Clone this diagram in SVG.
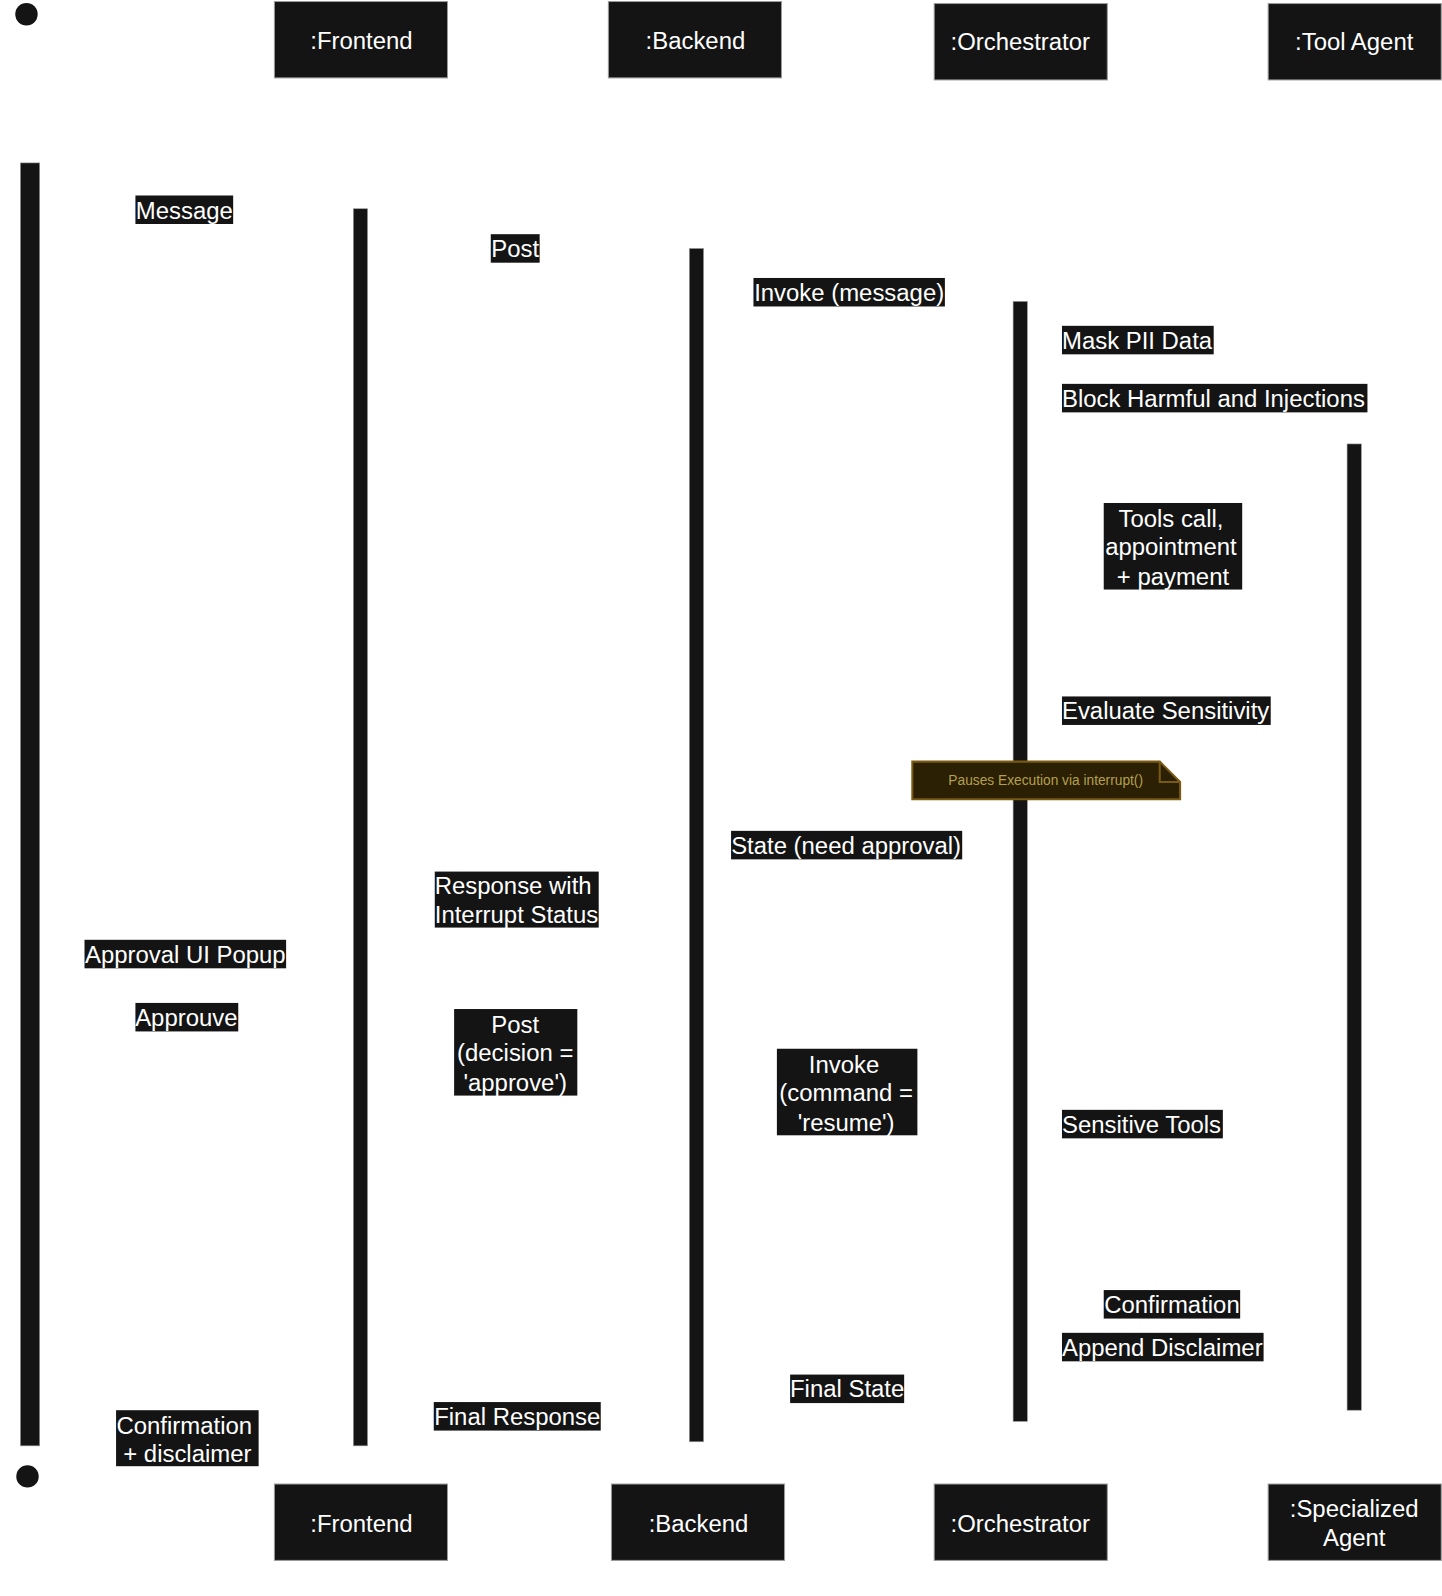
<svg xmlns="http://www.w3.org/2000/svg" width="1442" height="1596" viewBox="0 0 1442 1596">
<style>
.box{fill:#141414;stroke:#9a9a9a;stroke-width:1}
.bar{fill:#141414;stroke:#9a9a9a;stroke-width:0.6}
.hd{font-family:"Liberation Sans",Arial,sans-serif;font-size:23.5px;fill:#ffffff;text-anchor:middle;dominant-baseline:central}
.lb{fill:#141414}
.lt{font-family:"Liberation Sans",Arial,sans-serif;font-size:23.5px;fill:#ffffff;text-anchor:middle;dominant-baseline:central}
.ll{font-family:"Liberation Sans",Arial,sans-serif;font-size:23.5px;fill:#ffffff;text-anchor:start;dominant-baseline:central}
.msg{stroke:#ffffff;stroke-width:1.5;fill:none}
.note{fill:#2b1f04;stroke:#7a5a12;stroke-width:2}
.nt{font-family:"Liberation Sans",Arial,sans-serif;font-size:13.5px;fill:#b4a04c;text-anchor:middle;dominant-baseline:central}
</style>
<defs>
<marker id="ah" markerWidth="10" markerHeight="10" refX="9" refY="5" orient="auto"><path d="M0,0 L10,5 L0,10 z" fill="#ffffff"/></marker>
</defs>
<rect width="1442" height="1596" fill="#ffffff"/>
<g transform="scale(1.0182)">
<g id="connectors">
<line class="msg" x1="39" y1="207" x2="347" y2="207" marker-end="url(#ah)"/>
<line class="msg" x1="361" y1="244" x2="677" y2="244" marker-end="url(#ah)"/>
<line class="msg" x1="691" y1="289" x2="995" y2="289" marker-end="url(#ah)"/>
<path class="msg" d="M1009,322 H1030 V346 H1009" marker-end="url(#ah)"/>
<path class="msg" d="M1009,379 H1030 V403 H1009" marker-end="url(#ah)"/>
<line class="msg" x1="1009" y1="537" x2="1323" y2="537" marker-end="url(#ah)"/>
<path class="msg" d="M1009,686 H1030 V710 H1009" marker-end="url(#ah)"/>
<line class="msg" x1="995" y1="830" x2="691" y2="830" marker-end="url(#ah)"/>
<line class="msg" x1="677" y1="884" x2="361" y2="884" marker-end="url(#ah)"/>
<line class="msg" x1="347" y1="937" x2="39" y2="937" marker-end="url(#ah)"/>
<line class="msg" x1="39" y1="999" x2="347" y2="999" marker-end="url(#ah)"/>
<line class="msg" x1="361" y1="1034" x2="677" y2="1034" marker-end="url(#ah)"/>
<line class="msg" x1="691" y1="1073" x2="995" y2="1073" marker-end="url(#ah)"/>
<path class="msg" d="M1009,1092 H1030 V1116 H1009" marker-end="url(#ah)"/>
<line class="msg" x1="1323" y1="1281" x2="1009" y2="1281" marker-end="url(#ah)"/>
<path class="msg" d="M1009,1311 H1030 V1335 H1009" marker-end="url(#ah)"/>
<line class="msg" x1="995" y1="1364" x2="691" y2="1364" marker-end="url(#ah)"/>
<line class="msg" x1="677" y1="1391" x2="361" y2="1391" marker-end="url(#ah)"/>
<line class="msg" x1="347" y1="1413" x2="39" y2="1413" marker-end="url(#ah)"/>
</g>

<g id="start"><circle cx="26" cy="14" r="11" fill="#141414"/></g>
<g id="end"><circle cx="27" cy="1450" r="11" fill="#141414"/></g>

<g id="frontend-top"><rect class="box" x="269.5" y="1.5" width="170" height="75"/><text class="hd" x="355" y="40">:Frontend</text></g>
<g id="backend-top"><rect class="box" x="597.5" y="1.5" width="170" height="75"/><text class="hd" x="683" y="40">:Backend</text></g>
<g id="orchestrator-top"><rect class="box" x="917.5" y="3.5" width="170" height="75"/><text class="hd" x="1002" y="41">:Orchestrator</text></g>
<g id="toolagent-top"><rect class="box" x="1245.5" y="3.5" width="170" height="75"/><text class="hd" x="1330" y="41">:Tool Agent</text></g>

<g id="frontend-bottom"><rect class="box" x="269.5" y="1457.5" width="170" height="75"/><text class="hd" x="355" y="1496">:Frontend</text></g>
<g id="backend-bottom"><rect class="box" x="600.5" y="1457.5" width="170" height="75"/><text class="hd" x="686" y="1496">:Backend</text></g>
<g id="orchestrator-bottom"><rect class="box" x="917.5" y="1457.5" width="170" height="75"/><text class="hd" x="1002" y="1496">:Orchestrator</text></g>
<g id="specialized-bottom"><rect class="box" x="1245.5" y="1457.5" width="170" height="75"/><text class="hd" x="1330" y="1482">:Specialized</text><text class="hd" x="1330" y="1510">Agent</text></g>

<g id="actor-bar"><rect class="bar" x="20" y="160" width="19" height="1260"/></g>
<g id="frontend-bar"><rect class="bar" x="347" y="205" width="14" height="1215"/></g>
<g id="backend-bar"><rect class="bar" x="677" y="244" width="14" height="1172"/></g>
<g id="orchestrator-bar"><rect class="bar" x="995" y="296" width="14" height="1100"/></g>
<g id="toolagent-bar"><rect class="bar" x="1323" y="436" width="14" height="949"/></g>

<g id="note-interrupt">
<path class="note" d="M896,748 H1139 L1159,768 V785 H896 Z"/>
<path d="M1139,748 V768 H1159" fill="none" stroke="#7a5a12" stroke-width="2"/>
<text class="nt" x="1027" y="767">Pauses Execution via interrupt()</text>
</g>

<g id="labels">
<rect class="lb" x="133" y="192" width="96" height="28"/><text class="lt" x="181" y="207">Message</text>
<rect class="lb" x="482" y="230" width="48" height="28"/><text class="lt" x="506" y="244">Post</text>
<rect class="lb" x="740" y="273" width="188" height="28"/><text class="lt" x="834" y="287">Invoke (message)</text>
<rect class="lb" x="1043" y="320" width="149" height="28"/><text class="ll" x="1043" y="334">Mask PII Data</text>
<rect class="lb" x="1043" y="377" width="300" height="28"/><text class="ll" x="1043" y="391">Block Harmful and Injections</text>
<rect class="lb" x="1084" y="494" width="136" height="85"/><text class="lt" x="1150" y="509">Tools call,</text><text class="lt" x="1150" y="537">appointment</text><text class="lt" x="1152" y="566">+ payment</text>
<rect class="lb" x="1043" y="684" width="205" height="28"/><text class="ll" x="1043" y="698">Evaluate Sensitivity</text>
<rect class="lb" x="718" y="816" width="227" height="28"/><text class="lt" x="831" y="830">State (need approval)</text>
<rect class="lb" x="427" y="856" width="161" height="55"/><text class="ll" x="427" y="870">Response with</text><text class="ll" x="427" y="898">Interrupt Status</text>
<rect class="lb" x="83" y="923" width="198" height="28"/><text class="lt" x="182" y="937">Approval UI Popup</text>
<rect class="lb" x="133" y="985" width="101" height="28"/><text class="lt" x="183" y="999">Approuve</text>
<rect class="lb" x="446" y="991" width="121" height="85"/><text class="lt" x="506" y="1006">Post</text><text class="lt" x="506" y="1034">(decision =</text><text class="lt" x="506" y="1063">'approve')</text>
<rect class="lb" x="763" y="1030" width="138" height="85"/><text class="lt" x="829" y="1045">Invoke</text><text class="lt" x="831" y="1073">(command =</text><text class="lt" x="831" y="1102">'resume')</text>
<rect class="lb" x="1043" y="1090" width="158" height="28"/><text class="ll" x="1043" y="1104">Sensitive Tools</text>
<rect class="lb" x="1084" y="1267" width="134" height="28"/><text class="lt" x="1151" y="1281">Confirmation</text>
<rect class="lb" x="1043" y="1309" width="198" height="28"/><text class="ll" x="1043" y="1323">Append Disclaimer</text>
<rect class="lb" x="776" y="1350" width="112" height="28"/><text class="lt" x="832" y="1364">Final State</text>
<rect class="lb" x="426" y="1377" width="164" height="28"/><text class="lt" x="508" y="1391">Final Response</text>
<rect class="lb" x="114" y="1385" width="140" height="55"/><text class="lt" x="181" y="1400">Confirmation</text><text class="lt" x="184" y="1428">+ disclaimer</text>
</g>
</g>
</svg>
